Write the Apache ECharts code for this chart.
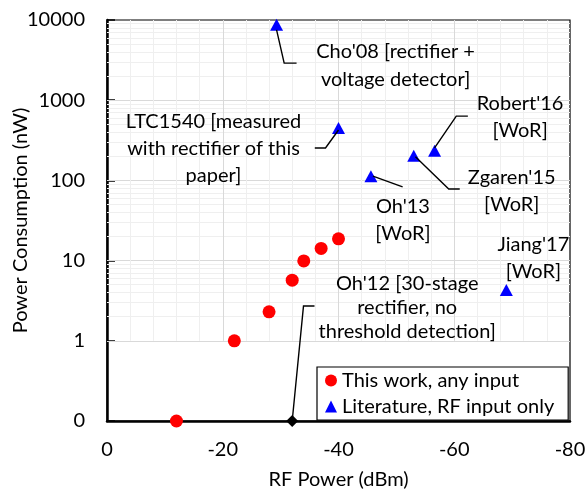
<!DOCTYPE html>
<html>
<head>
<meta charset="utf-8">
<script src="https://cdn.jsdelivr.net/npm/echarts@6/dist/echarts.min.js"></script>
<style>
html,body{margin:0;padding:0;background:#fff;}
#c{width:587px;height:491px;}
</style>
</head>
<body>
<div id="c"></div>
<script>
// ---- data ----
const workX = [-12, -22, -28, -32, -34, -37, -40];
const workY = [0.1, 1, 2.3, 5.7, 9.9, 14.2, 18.7];
const litNames = ["Cho'08", "LTC1540", "Oh'13", "Zgaren'15", "Robert'16", "Jiang'17"];
const litX = [-29.3, -40, -45.6, -53, -56.6, -69];
const litY = [8700, 450, 113, 203, 234, 4.3];
const oh12X = [-32];
const oh12Y = [0.1];
const xTicks = [0, -20, -40, -60, -80];
const yTicks = [0.1, 1, 10, 100, 1000, 10000];
const legendNames = ['This work, any input', 'Literature, RF input only'];
const annTexts = {
  "Cho'08": "Cho'08 [rectifier +\nvoltage detector]",
  "LTC1540": "LTC1540 [measured\nwith rectifier of this\npaper]",
  "Oh'13": "Oh'13\n[WoR]",
  "Zgaren'15": "Zgaren'15\n[WoR]",
  "Robert'16": "Robert'16\n[WoR]",
  "Jiang'17": "Jiang'17\n[WoR]",
  "Oh'12": "Oh'12 [30-stage\nrectifier, no\nthreshold detection]"
};
// ---- layout of annotations (pixel offsets from marker) ----
const annLayout = {
  "Cho'08":   {dx: 119, dy: 41, lh: 28, lead: [[0,5],[7.6,38.3],[20,38.3]]},
  "LTC1540":  {dx: -125, dy: 21, lh: 27, lead: [[0,2],[-13,20],[-23.7,20]]},
  "Oh'13":    {dx: 32, dy: 44, lh: 27, lead: [[2,0],[31.7,10.7]]},
  "Zgaren'15":{dx: 98, dy: 35.6, lh: 27, lead: [[1.7,1],[35,33.3],[46,33.3]]},
  "Robert'16":{dx: 85.5, dy: -33.7, lh: 27, lead: [[0,-3],[21.7,-34.7],[33.3,-34.7]]},
  "Jiang'17": {dx: 27, dy: -31.7, lh: 27, lead: null},
  "Oh'12":    {dx: 115, dy: -113, lh: 24, lead: [[0,0],[11.3,-115],[22.3,-115]]}
};

const FONT = 'Lato, "Open Sans", sans-serif';
const FS = 20;

// grid lines through the scales
const gridLines = [];
const majorColor = '#d9d9d9', minorColor = '#efefef';
for (const d of [1, 10, 100, 1000]) {
  for (let k = 1; k <= 9; k++) {
    const v = d * k;
    gridLines.push([{coord: [0, v], lineStyle: {color: k === 1 ? majorColor : minorColor, width: 1, type: 'solid'}},
                    {coord: [-80, v]}]);
  }
}
for (let x = -4; x > -80; x -= 4) {
  const major = (x % 20 === 0);
  gridLines.push([{coord: [x, 1], lineStyle: {color: major ? majorColor : minorColor, width: 1, type: 'solid'}},
                  {coord: [x, 10000]}]);
}

const chart = echarts.init(document.getElementById('c'), null, {renderer: 'canvas'});
const option = {
  animation: false,
  backgroundColor: '#fff',
  textStyle: {fontFamily: FONT},
  grid: {left: 107, right: 17, top: 20, bottom: 70, containLabel: false, outerBoundsMode: 'none',
    show: true, borderColor: '#000', borderWidth: 1.2, backgroundColor: 'transparent'},
  xAxis: {
    type: 'value', inverse: true, min: -80, max: 0, interval: 20,
    name: 'RF Power (dBm)', nameLocation: 'middle', nameGap: 49, nameMoveOverlap: false,
    nameTextStyle: {fontFamily: FONT, fontSize: FS, color: '#000'},
    axisLine: {show: true, onZero: false, lineStyle: {color: '#000', width: 2.5}},
    axisTick: {show: false},
    splitLine: {show: false},
    axisLabel: {fontFamily: FONT, fontSize: FS, color: '#000', margin: 19, showMinLabel: true, showMaxLabel: true,
      formatter: v => xTicks.includes(v) ? String(v) : ''}
  },
  yAxis: {
    type: 'log', logBase: 10, min: 0.1, max: 10000, splitNumber: 5,
    name: 'Power Consumption (nW)', nameLocation: 'middle', nameGap: 76, nameRotate: 90, nameMoveOverlap: false,
    nameTextStyle: {fontFamily: FONT, fontSize: FS, color: '#000'},
    axisLine: {show: true, onZero: false, lineStyle: {color: '#000', width: 2.5}},
    axisTick: {show: true, inside: true, length: 8, lineStyle: {color: '#000', width: 1.5}},
    splitLine: {show: false},
    axisLabel: {fontFamily: FONT, fontSize: FS, color: '#000', margin: 22, showMinLabel: true, showMaxLabel: true,
      formatter: v => {
        const t = yTicks.find(y => Math.abs(Math.log10(y) - Math.log10(v)) < 1e-6);
        if (t === undefined) return '';
        return t < 1 ? '0' : String(Math.round(t));
      }}
  },
  legend: {
    data: [
      {name: legendNames[0], icon: 'circle'},
      {name: legendNames[1], icon: 'triangle'}
    ],
    orient: 'vertical', left: 317, top: 367,
    backgroundColor: '#fff', borderColor: '#000', borderWidth: 1.2,
    padding: [3, 14, 3, 8], itemWidth: 12, itemHeight: 12, itemGap: 5,
    textStyle: {fontFamily: FONT, fontSize: FS, color: '#000', lineHeight: 21},
    z: 10
  },
  series: [
    {
      name: 'grid', type: 'line', data: [[0, 1]], symbol: 'none', silent: true, z: 1,
      lineStyle: {opacity: 0},
      markLine: {silent: true, symbol: ['none', 'none'], label: {show: false}, animation: false, data: gridLines}
    },
    {
      name: legendNames[0], type: 'scatter', symbol: 'circle', symbolSize: 13, z: 5,
      itemStyle: {color: '#ff0000', opacity: 1},
      data: workX.map((x, i) => [x, workY[i]])
    },
    {
      name: legendNames[1], type: 'scatter', symbol: 'triangle', symbolSize: [13, 12], z: 5,
      itemStyle: {color: '#0000ff', opacity: 1},
      data: litX.map((x, i) => ({name: litNames[i], value: [x, litY[i]]}))
    },
    {
      name: "Oh'12", type: 'scatter', symbol: 'diamond', symbolSize: 12, z: 6,
      itemStyle: {color: '#000', opacity: 1},
      data: oh12X.map((x, i) => ({name: "Oh'12", value: [x, oh12Y[i]]}))
    }
  ]
};
chart.setOption(option);

// annotations positioned from the scales
const elements = [];
function addAnn(name, x, y) {
  const p = chart.convertToPixel({xAxisIndex: 0, yAxisIndex: 0}, [x, y]);
  const L = annLayout[name];
  elements.push({
    type: 'text', z: 20,
    style: {text: annTexts[name], x: p[0] + L.dx, y: p[1] + L.dy, align: 'center', verticalAlign: 'middle',
      textAlign: 'center', textVerticalAlign: 'middle',
      font: FS + 'px ' + FONT, fill: '#000', lineHeight: L.lh}
  });
  if (L.lead) {
    elements.push({
      type: 'polyline', z: 20,
      shape: {points: L.lead.map(o => [p[0] + o[0], p[1] + o[1]])},
      style: {stroke: '#000', lineWidth: 1.4, fill: null}
    });
  }
}
litNames.forEach((n, i) => addAnn(n, litX[i], litY[i]));
addAnn("Oh'12", oh12X[0], oh12Y[0]);
chart.setOption({graphic: {elements: elements}});
</script>
</body>
</html>
